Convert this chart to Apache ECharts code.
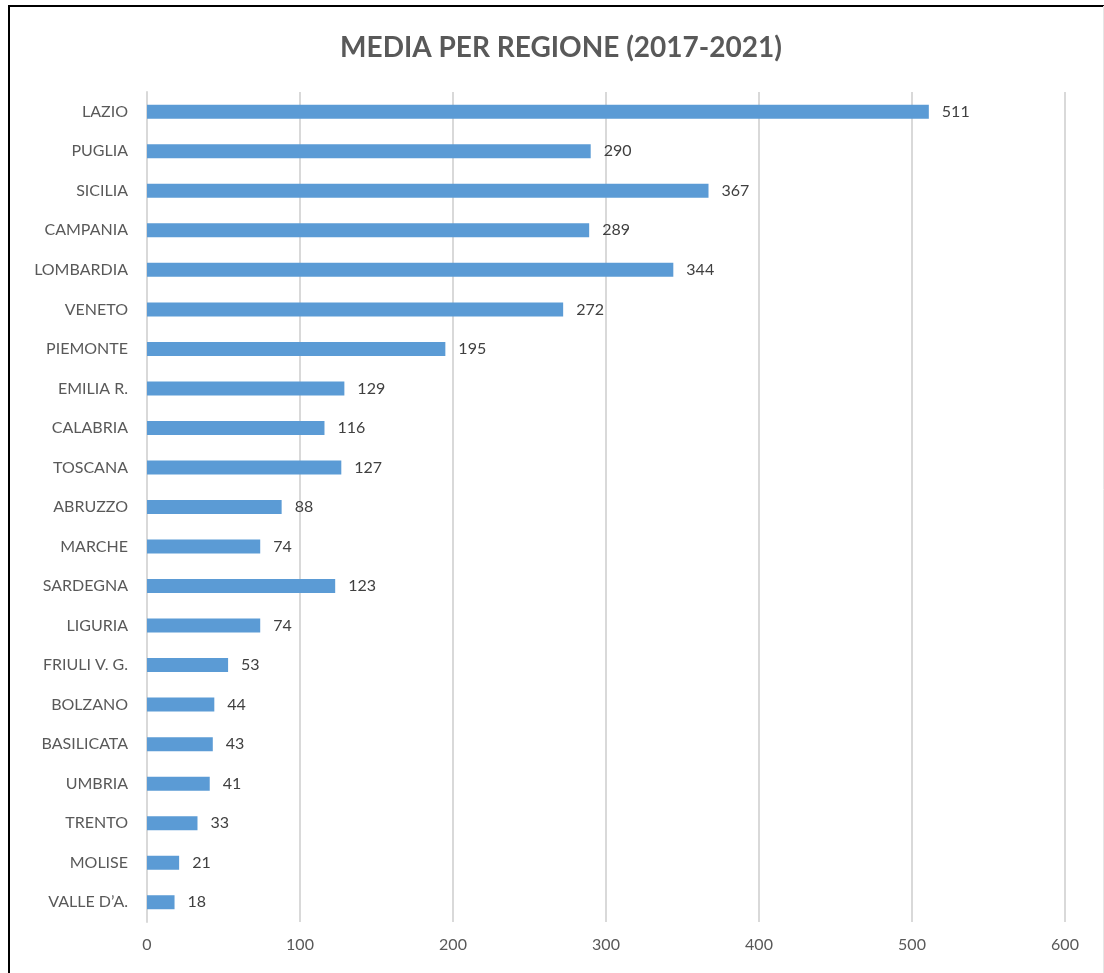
<!DOCTYPE html>
<html>
<head>
<meta charset="utf-8">
<script src="https://cdn.jsdelivr.net/npm/echarts@6/dist/echarts.min.js"></script>
<style>
html,body{margin:0;padding:0;background:#fff;}
#c{width:1104px;height:973px;}
</style>
</head>
<body>
<div id="c"></div>
<script>
const categories = ["LAZIO","PUGLIA","SICILIA","CAMPANIA","LOMBARDIA","VENETO","PIEMONTE","EMILIA R.","CALABRIA","TOSCANA","ABRUZZO","MARCHE","SARDEGNA","LIGURIA","FRIULI V. G.","BOLZANO","BASILICATA","UMBRIA","TRENTO","MOLISE","VALLE D\u2019A."];
const values = [511,290,367,289,344,272,195,129,116,127,88,74,123,74,53,44,43,41,33,21,18];
const xTicks = [0,100,200,300,400,500,600];

const chart = echarts.init(document.getElementById('c'), null, {renderer:'canvas'});
const font = 'Lato, "Open Sans", sans-serif';
chart.setOption({
  animation:false,
  backgroundColor:'#fff',
  title:{
    text:'MEDIA PER REGIONE (2017-2021)',
    left:556, top:29, textAlign:'center',
    textStyle:{fontFamily:font,fontSize:28,fontWeight:'bold',color:'#595959'}
  },
  grid:{left:147,right:39,top:92,bottom:51,containLabel:false},
  xAxis:{
    type:'value',min:xTicks[0],max:xTicks[xTicks.length-1],interval:100,
    axisLine:{show:false},axisTick:{show:false},
    axisLabel:{fontFamily:font,fontSize:16,color:'#595959',margin:15},
    splitLine:{show:true,lineStyle:{color:'#d9d9d9',width:2}}
  },
  yAxis:{
    type:'category',data:categories,inverse:true,
    axisLine:{show:true,lineStyle:{color:'#d9d9d9',width:2}},
    axisTick:{show:false},
    axisLabel:{fontFamily:font,fontSize:16,color:'#595959',margin:19}
  },
  series:[{
    type:'bar',data:values,barWidth:14,
    itemStyle:{color:'#5b9bd5'},
    label:{show:true,position:'right',distance:13,fontFamily:font,fontSize:16,color:'#404040'}
  }],
  graphic:[
    {type:'line',shape:{x1:8,y1:6,x2:1104,y2:6},style:{stroke:'#000',lineWidth:2}},
    {type:'line',shape:{x1:9,y1:5,x2:9,y2:973},style:{stroke:'#000',lineWidth:2}},
    {type:'line',shape:{x1:1103.5,y1:6,x2:1103.5,y2:973},style:{stroke:'#e6e6e6',lineWidth:1}}
  ]
});
</script>
</body>
</html>
